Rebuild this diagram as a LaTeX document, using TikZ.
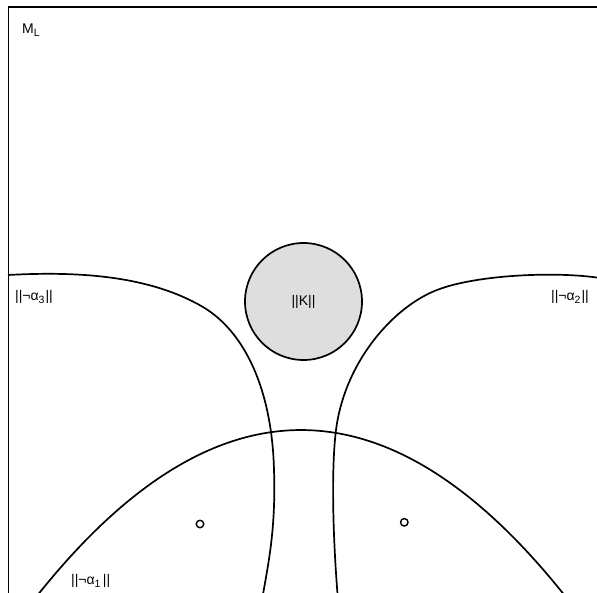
\documentclass[tikz,border=0pt]{standalone}
\usepackage{fontspec}
\setmainfont{Liberation Sans}
\usepackage{xcolor}
\definecolor{kfill}{gray}{0.87}
\newcommand{\lowsub}[1]{\raisebox{-3.2pt}{\fontsize{10.5}{12}\selectfont #1}}
\tikzset{
	region/.style={line width=1.7pt},
	setlabel/.style={font=\fontsize{14}{16}\selectfont, inner sep=0pt},
	kset/.style={circle, draw, line width=1.7pt, fill=kfill, minimum size=117pt, inner sep=0pt, font=\fontsize{14}{16}\selectfont},
	world/.style={circle, draw, line width=1.4pt, fill=white, minimum size=7.5pt, inner sep=0pt},
}

\begin{document}
\begin{tikzpicture}[x=1pt, y=-1pt]
	% pixel coordinates, y pointing down
	\useasboundingbox (0,0) rectangle (597,592);
	\clip (0,0) rectangle (597,592);
	
	% Frame
	\draw[region] (8.5,640) -- (8.5,7) -- (640,7);
	\node[setlabel, anchor=base west] (ml) at (22,33.5) {M\lowsub{L}};
	
	% ||K||
	\node[kset] (k) at (303.5,301.5) {||K||};
	
	% ||not alpha_3||
	\draw[region] (8,275) .. controls (80,271) and (150,276) .. (203,307)
		.. controls (245,332) and (272,390) .. (274,470)
		.. controls (276,530) and (268,565) .. (262,600);
	\node[setlabel, anchor=base west] (a3) at (15,300) {||¬α\lowsub{3}\kern1pt||};
	
	% ||not alpha_2||
	\draw[region] (600,278) .. controls (555,271) and (475,275) .. (437,290)
		.. controls (395,306) and (345,360) .. (336,430)
		.. controls (331,470) and (333,540) .. (338,600);
	\node[setlabel, anchor=base west] (a2) at (551,300) {||¬α\lowsub{2}\kern1pt||};
	
	% ||not alpha_1||
	\draw[region] (31,603.5) .. controls (211,372.2) and (391,372.2) .. (571,603.5);
	\node[setlabel, anchor=base west] (a1) at (71,584) {||¬α\lowsub{1}\,||};
	
	% Worlds
	\node[world] (w1) at (200,524) {};
	\node[world] (w2) at (404.3,522.3) {};
\end{tikzpicture}
\end{document}
